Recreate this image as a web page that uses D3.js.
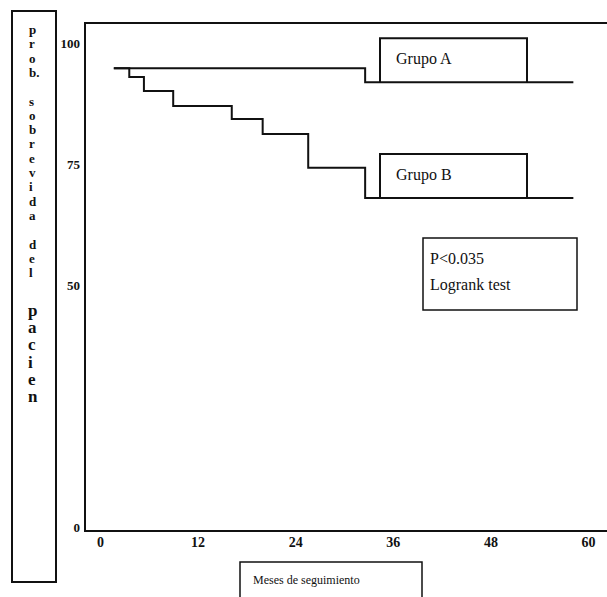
<!DOCTYPE html>
<html>
<head>
<meta charset="utf-8">
<script src="https://cdn.jsdelivr.net/npm/d3@7"></script>
<style>
  body { margin: 0; background: #fff; }
  text { font-family: "Liberation Serif", "DejaVu Serif", serif; fill: #111; }
</style>
</head>
<body>
<div id="container"></div>
<script>
/* CONSTANTS AND GLOBALS */
const width = 607, height = 597

// data (months, survival %)
const groupAMonths = [1.7, 32.6, 58.2]
const groupAValues = [94.8, 91.9, 91.9]
const groupBMonths = [1.7, 3.6, 5.4, 9.0, 16.2, 20.0, 25.6, 32.6, 58.2]
const groupBValues = [94.8, 93.0, 90.1, 87.0, 84.3, 81.2, 74.2, 68.0, 68.0]
const xTicks = [0, 12, 24, 36, 48, 60]
const yTicks = [0, 50, 75, 100]
const yLabelTop = ["p", "r", "o", "b.", "", "s", "o", "b", "r", "e", "v", "i", "d", "a", "", "d", "e", "l"]
const yLabelBottom = ["p", "a", "c", "i", "e", "n"]

const groupA = groupAMonths.map((m, i) => ({ m: m, v: groupAValues[i] }))
const groupB = groupBMonths.map((m, i) => ({ m: m, v: groupBValues[i] }))

// SCALES
const xScale = d3.scaleLinear().domain([0, 60]).range([100, 588])
const yScale = d3.scaleLinear().domain([0, 100]).range([527, 43])

// SVG
const svg = d3.select("#container")
  .append("svg")
  .attr("width", width)
  .attr("height", height)

// plot frame
svg.append("path")
  .attr("d", "M607,23 H85 V531 H607")
  .attr("fill", "none")
  .attr("stroke", "#111")
  .attr("stroke-width", 2)

// AXES (labels only, frame drawn above)
const xAxis = d3.axisBottom(xScale).tickValues(xTicks).tickSize(0).tickPadding(0)
svg.append("g")
  .attr("transform", "translate(0,537)")
  .call(xAxis)
  .call(g => g.select(".domain").remove())
  .selectAll("text")
  .attr("font-size", 14)
  .attr("font-weight", "bold")
  .attr("font-family", "Liberation Serif, serif")

const yAxis = d3.axisLeft(yScale).tickValues(yTicks).tickSize(0).tickPadding(0)
svg.append("g")
  .attr("transform", "translate(80,0)")
  .call(yAxis)
  .call(g => g.select(".domain").remove())
  .selectAll("text")
  .attr("font-size", 13)
  .attr("font-weight", "bold")
  .attr("font-family", "Liberation Serif, serif")

// LINES
const lineGen = d3.line()
  .x(d => xScale(d.m))
  .y(d => yScale(d.v))
  .curve(d3.curveStepAfter)

svg.append("path")
  .attr("d", lineGen(groupA))
  .attr("fill", "none")
  .attr("stroke", "#111")
  .attr("stroke-width", 2)

svg.append("path")
  .attr("d", lineGen(groupB))
  .attr("fill", "none")
  .attr("stroke", "#111")
  .attr("stroke-width", 2)

// legend boxes sitting on the curves
function legendBox(y, label) {
  svg.append("path")
    .attr("d", `M380,${y} V${y - 44} H527 V${y}`)
    .attr("fill", "none")
    .attr("stroke", "#111")
    .attr("stroke-width", 2)
  svg.append("text")
    .attr("x", 396)
    .attr("y", y - 18)
    .attr("font-size", 16)
    .text(label)
}
legendBox(yScale(groupAValues[groupAValues.length - 1]), "Grupo A")
legendBox(yScale(groupBValues[groupBValues.length - 1]), "Grupo B")

// p value box
svg.append("rect")
  .attr("x", 423).attr("y", 238)
  .attr("width", 154).attr("height", 72)
  .attr("fill", "none")
  .attr("stroke", "#111")
  .attr("stroke-width", 1.5)
svg.append("text").attr("x", 430).attr("y", 264).attr("font-size", 16).text("P<0.035")
svg.append("text").attr("x", 430).attr("y", 290).attr("font-size", 16).text("Logrank test")

// x label box
svg.append("path")
  .attr("d", "M240,597 V562 H422 V597")
  .attr("fill", "none")
  .attr("stroke", "#111")
  .attr("stroke-width", 1.5)
svg.append("text").attr("x", 253).attr("y", 584).attr("font-size", 12).text("Meses de seguimiento")

// y label box with stacked letters
svg.append("rect")
  .attr("x", 12).attr("y", 11)
  .attr("width", 44).attr("height", 571)
  .attr("fill", "none")
  .attr("stroke", "#111")
  .attr("stroke-width", 2)

svg.selectAll(".ytop")
  .data(yLabelTop)
  .join("text")
  .attr("class", "ytop")
  .attr("x", 29)
  .attr("y", (d, i) => 34 + i * 14.3)
  .attr("font-size", 13)
  .attr("font-weight", "bold")
  .text(d => d)

svg.selectAll(".ybot")
  .data(yLabelBottom)
  .join("text")
  .attr("class", "ybot")
  .attr("x", 28)
  .attr("y", (d, i) => 316 + i * 17.2)
  .attr("font-size", 17)
  .attr("font-weight", "bold")
  .text(d => d)
</script>
</body>
</html>
